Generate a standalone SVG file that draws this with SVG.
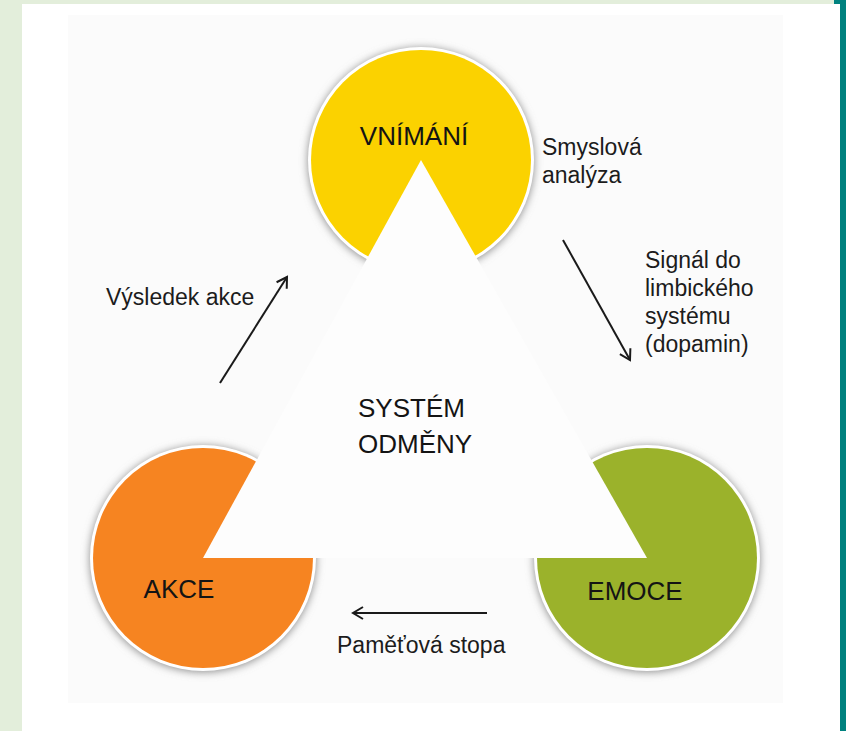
<svg xmlns="http://www.w3.org/2000/svg" width="846" height="731" viewBox="0 0 846 731">
<style>
.lbl{font-family:"Liberation Sans",Arial,sans-serif;font-size:23px;fill:#1c1c1c}
.big{font-family:"Liberation Sans",Arial,sans-serif;font-size:26px;fill:#141414}
.conn{stroke:#1a1a1a;stroke-width:2;fill:none}
.rim{fill:#ffffff}
.shadow{fill:#8a8a8a;filter:url(#blur)}
</style>
<defs>
<filter id="blur" x="-20%" y="-20%" width="140%" height="140%"><feGaussianBlur stdDeviation="4"/></filter>
<marker id="arr" markerUnits="userSpaceOnUse" markerWidth="14" markerHeight="14" refX="11" refY="7" orient="auto"><path d="M1,1 L11,7 L1,13" fill="none" stroke="#1a1a1a" stroke-width="2"/></marker>
</defs>
<rect x="0" y="0" width="846" height="731" fill="#e3eedb"/>
<rect x="22" y="4" width="818" height="727" fill="#ffffff"/>
<rect x="840" y="0" width="6" height="731" fill="#00827f"/>
<rect x="834" y="0" width="12" height="4" fill="#00827f"/>
<rect x="68" y="15" width="715" height="688" fill="#fbfbfb"/>
<g id="vnimani">
<circle class="shadow" cx="421" cy="161" r="113"/>
<circle class="rim" cx="421" cy="160" r="113"/>
<circle cx="421" cy="160" r="110" fill="#fbd200"/>
<text class="big" x="414" y="145" text-anchor="middle">VNÍMÁNÍ</text>
</g>
<g id="akce">
<circle class="shadow" cx="203" cy="559" r="113"/>
<circle class="rim" cx="203" cy="558" r="113"/>
<circle cx="203" cy="558" r="110" fill="#f68421"/>
</g>
<g id="emoce">
<circle class="shadow" cx="647" cy="559" r="113"/>
<circle class="rim" cx="647" cy="558" r="113"/>
<circle cx="647" cy="558" r="110" fill="#9bb22b"/>
</g>
<g id="system-odmeny">
<polygon points="421,160 203,558 647,558" fill="#fdfdfd"/>
<text class="big" x="358" y="417">SYSTÉM</text>
<text class="big" x="358" y="453">ODMĚNY</text>
</g>
<g id="labels-circles">
<text class="big" x="179" y="598" text-anchor="middle">AKCE</text>
<text class="big" x="635" y="600" text-anchor="middle">EMOCE</text>
</g>
<g id="connectors">
<line class="conn" x1="563" y1="240" x2="630" y2="360" marker-end="url(#arr)"/>
<line class="conn" x1="220" y1="383" x2="287" y2="277" marker-end="url(#arr)"/>
<line class="conn" x1="487" y1="613" x2="353" y2="613" marker-end="url(#arr)"/>
</g>
<g id="connector-labels">
<text class="lbl" x="542" y="155">Smyslová</text>
<text class="lbl" x="542" y="183">analýza</text>
<text class="lbl" x="645" y="268">Signál do</text>
<text class="lbl" x="645" y="296">limbického</text>
<text class="lbl" x="645" y="324">systému</text>
<text class="lbl" x="645" y="352">(dopamin)</text>
<text class="lbl" x="106" y="305">Výsledek akce</text>
<text class="lbl" x="337" y="653">Paměťová stopa</text>
</g>
</svg>
